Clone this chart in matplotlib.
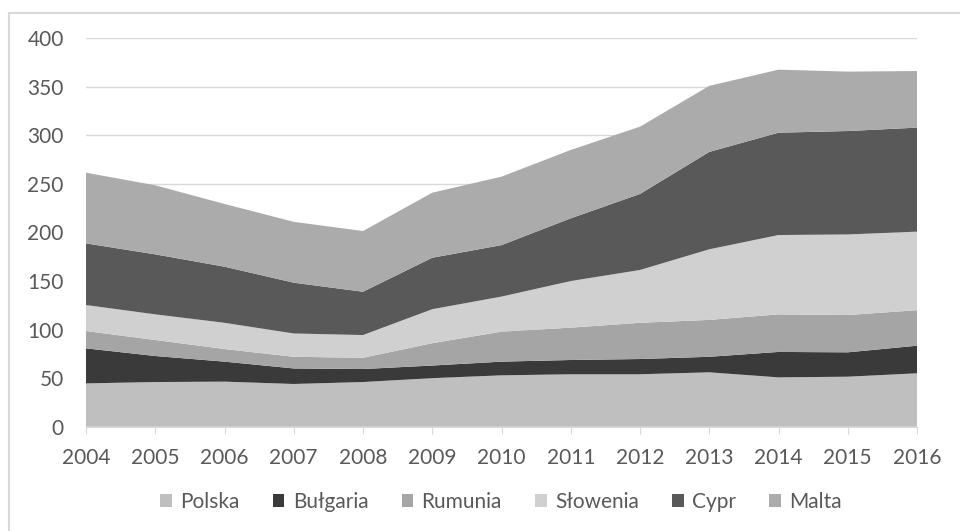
import numpy as np
import matplotlib.pyplot as plt
from matplotlib.patches import Patch
from matplotlib.lines import Line2D

plt.rcParams['font.family'] = ['Lato', 'DejaVu Sans']

years    = [2004, 2005, 2006, 2007, 2008, 2009, 2010, 2011, 2012, 2013, 2014, 2015, 2016]
polska   = [44.6, 46.0, 46.4, 44.0, 46.0, 50.0, 52.9, 54.0, 54.0, 56.0, 50.8, 51.5, 55.0]
bulgaria = [36.1, 26.8, 20.6, 16.0, 13.4, 13.0, 14.1, 14.7, 15.7, 16.0, 26.2, 25.1, 28.4]
rumunia  = [17.8, 16.5, 13.0, 12.0, 11.6, 23.0, 30.9, 33.3, 37.3, 38.0, 38.7, 38.4, 36.6]
slowenia = [26.8, 26.4, 27.0, 24.0, 23.4, 35.0, 36.1, 48.0, 54.4, 72.7, 81.7, 83.0, 80.9]
cypr     = [63.5, 61.8, 57.8, 52.3, 44.6, 53.0, 53.0, 64.6, 78.3, 100.3, 105.4, 106.5, 107.1]
malta    = [72.8, 71.1, 64.6, 62.7, 62.5, 67.0, 70.5, 70.4, 69.3, 68.0, 64.9, 61.2, 58.3]

names  = ['Polska', 'Bułgaria', 'Rumunia', 'Słowenia', 'Cypr', 'Malta']
colors = ['#bfbfbf', '#3a3a3a', '#a5a5a5', '#d0d0d0', '#595959', '#ababab']
txt    = '#595959'
gridc  = '#d9d9d9'

W, H = 960, 531
fig = plt.figure(figsize=(W/100, H/100), dpi=100)
ax = fig.add_axes([86/W, 1-426.7/H, (917-86)/W, (426.7-38.3)/H])

ax.stackplot(years, polska, bulgaria, rumunia, slowenia, cypr, malta,
             colors=colors, labels=names, linewidth=0)

ax.set_xlim(2004, 2016)
ax.set_ylim(0, 400)
ax.set_xticks(years)
ax.set_yticks(np.arange(0, 401, 50))
ax.grid(True, axis='y', color=gridc, linewidth=1)
ax.set_axisbelow(True)
for s in ['top', 'right', 'left']:
    ax.spines[s].set_visible(False)
ax.spines['bottom'].set_color(gridc)
ax.spines['bottom'].set_zorder(5)
ax.tick_params(axis='x', length=5, color=gridc, labelcolor=txt, labelsize=15, pad=10)
ax.tick_params(axis='y', length=0, labelcolor=txt, labelsize=15, pad=16)

# frame around the chart area (only left and top edges fall inside the image)
fig.add_artist(Line2D([8.5/W, 8.5/W], [0, 1-12.5/H], transform=fig.transFigure,
                      color=gridc, linewidth=1.5))
fig.add_artist(Line2D([8.5/W, 1], [1-12.5/H, 1-12.5/H], transform=fig.transFigure,
                      color=gridc, linewidth=1.5))

handles = [Patch(facecolor=c, edgecolor='none', label=n) for c, n in zip(colors, names)]
fig.legend(handles=handles, loc='center', bbox_to_anchor=(501/W, 1-502/H), ncol=6,
           frameon=False, fontsize=15, labelcolor=txt, handlelength=0.55,
           handleheight=0.55, handletextpad=0.4, columnspacing=1.6)

fig.savefig('out.png', dpi=100)
